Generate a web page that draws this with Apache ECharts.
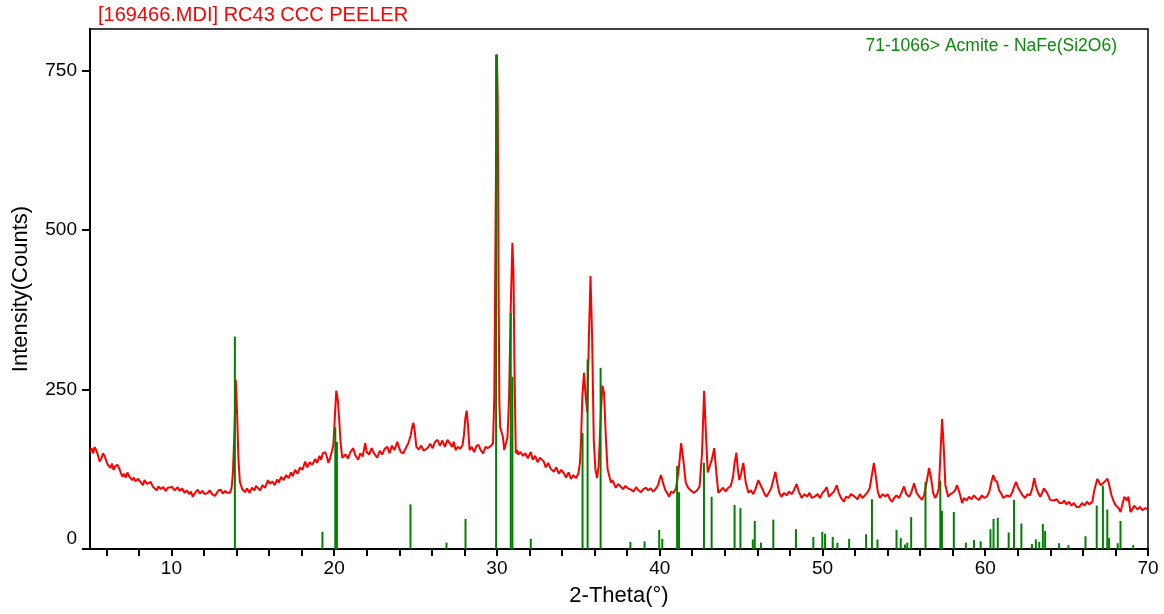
<!DOCTYPE html>
<html>
<head>
<meta charset="utf-8">
<script src="https://cdn.jsdelivr.net/npm/echarts@6/dist/echarts.min.js"></script>
<style>
html,body{margin:0;padding:0;background:#fff;}
#chart{width:1164px;height:614px;}
</style>
</head>
<body>
<div id="chart"></div>
<script>
const scanPoints = [
[5.00,152],[5.10,158],[5.20,150],[5.28,160],[5.40,154],[5.50,146],[5.59,137],[5.70,142],[5.80,150],[5.89,146],[6.00,138],[6.10,132],[6.26,127],[6.35,134],[6.45,124],[6.55,130],[6.69,132],[6.80,126],[6.90,119],[7.00,113],[7.10,118],[7.20,112],[7.30,120],[7.40,114],[7.50,116],[7.60,108],[7.70,112],[7.80,106],[7.95,110],[8.11,105],[8.25,100],[8.35,108],[8.50,102],[8.60,99],[8.73,105],[8.85,98],[8.97,96],[9.10,92],[9.20,98],[9.35,94],[9.50,97],[9.65,91],[9.78,96],[9.90,93],[10.05,97],[10.20,92],[10.39,97],[10.50,91],[10.65,95],[10.82,88],[10.95,92],[11.10,86],[11.20,90],[11.31,82],[11.45,88],[11.62,93],[11.75,87],[11.90,91],[12.05,86],[12.24,88],[12.35,92],[12.50,86],[12.67,83],[12.80,88],[12.90,92],[13.04,93],[13.15,87],[13.30,91],[13.45,88],[13.60,88],[13.70,96],[13.78,119],[13.88,190],[13.96,265],[14.04,210],[14.12,140],[14.21,105],[14.35,94],[14.52,89],
[14.65,95],[14.80,88],[14.95,96],[15.10,92],[15.20,99],[15.32,97],[15.45,92],[15.60,100],[15.75,96],[15.94,108],[16.05,102],[16.20,106],[16.35,100],[16.50,109],[16.60,104],[16.74,113],[16.90,108],[17.05,116],[17.20,111],[17.35,120],[17.45,114],[17.60,124],[17.75,118],[17.90,128],[18.05,124],[18.22,137],[18.35,128],[18.50,136],[18.65,132],[18.84,141],[18.95,135],[19.10,146],[19.20,140],[19.30,150],[19.45,152],[19.55,145],[19.64,135],[19.75,142],[19.88,155],[19.95,163],[20.05,210],[20.13,248],[20.22,235],[20.30,207],[20.40,165],[20.50,143],[20.56,140],
[20.70,148],[20.85,142],[21.00,152],[21.17,158],[21.30,147],[21.48,140],[21.60,150],[21.75,145],[21.91,166],[22.00,152],[22.15,148],[22.30,158],[22.45,150],[22.65,143],[22.80,154],[22.95,148],[23.10,157],[23.27,160],[23.40,150],[23.55,162],[23.70,155],[23.88,168],[24.00,158],[24.10,152],[24.25,150],[24.40,158],[24.56,166],[24.70,178],[24.80,192],[24.87,198],[24.95,185],[25.05,160],[25.20,156],[25.35,162],[25.50,154],[25.73,158],[25.90,165],[26.05,158],[26.20,168],[26.35,171],[26.50,162],[26.65,170],[26.80,160],[26.96,171],[27.10,166],[27.25,160],[27.35,168],[27.46,155],[27.60,160],[27.75,157],[27.89,163],[27.98,180],[28.06,205],[28.14,217],[28.22,195],[28.32,155],[28.45,160],[28.60,152],[28.75,162],[28.88,163],[29.00,155],[29.15,150],[29.30,160],[29.43,158],[29.55,155],[29.65,162],[29.76,166],[29.84,240],[29.92,520],[30.00,775],[30.05,700],[30.10,420],[30.15,230],[30.20,191],[30.28,192],[30.37,175],[30.45,155],[30.54,158],[30.65,175],[30.75,240],[30.85,380],[30.95,480],[31.02,430],[31.08,280],[31.16,150],[31.25,155],
[31.30,148],[31.45,152],[31.60,146],[31.75,150],[31.90,142],[32.08,152],[32.20,140],[32.35,146],[32.50,136],[32.65,143],[32.88,137],[33.00,128],[33.15,135],[33.30,126],[33.50,121],[33.65,128],[33.80,118],[33.95,124],[34.11,119],[34.25,112],[34.40,120],[34.55,110],[34.70,116],[34.85,111],[35.00,118],[35.10,135],[35.16,165],[35.25,240],[35.35,276],[35.45,240],[35.55,215],[35.65,330],[35.75,428],[35.85,330],[35.95,170],[36.05,125],[36.15,111],[36.25,130],[36.38,210],[36.48,256],[36.58,245],[36.70,170],[36.80,125],[36.89,116],[37.00,104],[37.10,108],[37.19,105],[37.30,96],[37.45,102],[37.60,98],[37.75,94],[37.90,99],[38.05,95],[38.24,93],[38.40,90],[38.55,97],[38.70,92],[38.85,89],[39.00,94],[39.16,96],[39.30,92],[39.45,95],[39.60,90],[39.75,94],[39.90,100],[40.00,110],[40.08,116],[40.20,104],[40.35,92],[40.50,86],[40.58,82],[40.70,90],[40.85,88],[41.00,95],[41.15,120],[41.32,166],[41.45,140],[41.60,104],[41.75,96],[41.90,92],[42.00,95],[42.12,88],[42.30,92],[42.45,98],[42.60,150],[42.73,248],[42.85,175],[42.95,120],[43.04,119],[43.20,140],[43.35,158],[43.48,120],[43.60,88],[43.75,92],[43.90,96],[44.05,90],[44.21,96],[44.35,98],[44.50,112],[44.60,135],[44.71,151],[44.80,125],[44.89,108],[45.00,118],[45.14,135],[45.28,105],[45.45,88],[45.60,92],[45.75,86],[45.90,95],[46.06,108],[46.20,100],[46.35,92],[46.45,86],[46.56,82],[46.70,88],[46.85,95],[47.00,110],[47.11,121],[47.25,100],[47.35,88],[47.48,82],[47.65,88],[47.80,84],[47.95,90],[48.10,86],[48.25,92],[48.41,102],[48.55,90],[48.72,80],[48.90,86],[49.05,82],[49.20,88],[49.35,80],[49.52,82],[49.70,86],[49.85,80],[50.00,88],[50.15,92],[50.26,97],[50.40,82],[50.55,86],[50.70,90],[50.88,100],[51.00,88],[51.15,80],[51.31,74],[51.45,82],[51.60,80],[51.75,86],[51.99,82],[52.15,78],[52.30,86],[52.45,80],[52.60,84],[52.75,88],[52.90,95],[53.05,118],[53.16,135],[53.30,110],[53.40,90],[53.53,80],[53.70,86],[53.85,82],[54.00,86],[54.15,78],[54.27,74],[54.40,80],[54.55,84],[54.70,80],[54.85,88],[55.01,98],[55.15,86],[55.32,82],[55.45,88],[55.63,103],[55.78,88],[55.95,82],[56.12,77],[56.25,85],[56.40,105],[56.55,127],[56.68,110],[56.80,88],[56.92,80],[57.05,86],[57.15,95],[57.25,150],[57.35,204],[57.45,160],[57.55,100],[57.72,82],[57.85,86],[58.00,88],[58.15,92],[58.27,100],[58.42,88],[58.58,72],[58.70,80],[58.85,76],[59.00,82],[59.15,78],[59.30,84],[59.45,80],[59.62,77],[59.80,84],[59.95,80],[60.10,82],[60.25,90],[60.38,105],[60.49,116],[60.60,108],[60.73,105],[60.85,92],[61.00,86],[61.10,80],[61.22,77],[61.35,84],[61.50,82],[61.65,88],[61.78,98],[61.90,105],[62.02,96],[62.15,90],[62.30,84],[62.45,80],[62.60,86],[62.75,84],[62.90,96],[63.01,111],[63.12,98],[63.25,88],[63.38,82],[63.50,88],[63.60,95],[63.69,98],[63.80,88],[63.99,77],[64.10,80],[64.25,76],[64.40,78],[64.55,72],[64.73,72],[64.85,76],[65.00,70],[65.15,74],[65.30,68],[65.45,72],[65.60,66],[65.78,66],[65.95,72],[66.10,68],[66.25,74],[66.40,70],[66.58,74],[66.70,92],[66.89,110],[67.00,104],[67.10,100],[67.20,98],[67.35,106],[67.51,110],[67.62,100],[67.75,85],[67.90,74],[68.00,69],[68.10,72],[68.20,64],[68.31,58],[68.45,72],[68.55,82],[68.62,85],[68.70,76],[68.80,82],[68.92,58],[69.05,62],[69.15,68],[69.23,67],[69.35,62],[69.50,66],[69.65,61],[69.85,64],[70.00,62]
];

// Reference pattern 71-1066 Acmite: stick positions and intensities
const stickAngles = [13.90,19.28,20.07,20.17,24.69,26.90,28.07,29.95,30.85,30.95,32.08,35.26,35.57,36.37,38.20,39.07,39.97,40.16,41.07,41.19,42.72,43.19,44.60,44.96,45.72,45.84,46.22,46.98,48.37,49.44,49.99,50.16,50.63,50.92,51.64,52.68,53.04,53.38,54.55,54.81,55.07,55.21,55.45,56.33,57.24,57.34,58.07,58.81,59.31,59.72,60.32,60.51,60.77,61.44,61.77,62.22,62.87,63.11,63.32,63.54,63.68,64.54,65.11,66.16,66.85,67.23,67.50,67.61,68.14,68.31,69.09];
const stickHeights = [333,27,191,168,70,10,47,775,370,270,16,182,297,284,11,12,30,16,130,89,135,82,69,64,15,44,10,46,31,19,27,24,19,10,16,23,78,15,30,17,7,10,50,105,107,60,58,10,14,12,31,47,49,26,77,40,8,15,11,39,28,9,6,20,68,99,62,17,9,44,6];

const xTickValues = [6,8,10,12,14,16,18,20,22,24,26,28,30,32,34,36,38,40,42,44,46,48,50,52,54,56,58,60,62,64,66,68,70];
const xLabelValues = [10,20,30,40,50,60,70];
const yTickValues = [0,250,500,750];

const titleText = '[169466.MDI] RC43 CCC PEELER';
const legendText = '71-1066> Acmite - NaFe(Si2O6)';

const FONT = '"Liberation Sans", Arial, sans-serif';
const stickData = stickAngles.map((a, i) => [a, stickHeights[i]]);

const chart = echarts.init(document.getElementById('chart'), null, {renderer: 'canvas'});
chart.setOption({
  animation: false,
  backgroundColor: '#fff',
  grid: {left: 90, right: 16, top: 29, bottom: 65, show: true, borderColor: '#000', borderWidth: 1.5},
  graphic: [
    {type: 'text', left: 98, top: 5, style: {text: titleText, fill: '#ff0000', font: '20px ' + FONT}},
    {type: 'text', right: 47, top: 37, style: {text: legendText, fill: '#0a8a0a', font: '17.5px ' + FONT}}
  ],
  xAxis: {
    type: 'value', min: 5, max: 70,
    name: '2-Theta(°)', nameLocation: 'middle', nameGap: 36,
    nameTextStyle: {fontFamily: FONT, fontSize: 22, color: '#000'},
    axisLine: {show: true, onZero: false, lineStyle: {color: '#000', width: 2}},
    axisTick: {show: true, inside: false, length: 7, customValues: xTickValues, lineStyle: {color: '#000', width: 2}},
    axisLabel: {customValues: xLabelValues, fontFamily: FONT, fontSize: 19, color: '#000', margin: 10},
    splitLine: {show: false}
  },
  yAxis: {
    type: 'value', min: 0, max: 815,
    name: 'Intensity(Counts)', nameLocation: 'middle', nameGap: 58,
    nameTextStyle: {fontFamily: FONT, fontSize: 22, color: '#000'},
    axisLine: {show: true, lineStyle: {color: '#000', width: 2}},
    axisTick: {show: true, length: 8, customValues: yTickValues, lineStyle: {color: '#000', width: 2}},
    axisLabel: {
      customValues: yTickValues, fontFamily: FONT, fontSize: 19, color: '#000', margin: 13,
      formatter: v => v === 0 ? '{z|0}' : String(v),
      rich: {z: {fontFamily: FONT, fontSize: 19, color: '#000', padding: [0, 0, 20, 0]}}
    },
    splitLine: {show: false}
  },
  series: [
    {
      type: 'line', data: scanPoints, showSymbol: false, symbol: 'none',
      lineStyle: {color: '#ff0000', width: 2}, z: 2, clip: true
    },
    {
      type: 'custom', data: stickData, z: 3, clip: true,
      encode: {x: 0, y: 1},
      renderItem: function (params, api) {
        const p0 = api.coord([api.value(0), 0]);
        const p1 = api.coord([api.value(0), api.value(1)]);
        return {type: 'line', shape: {x1: p0[0], y1: p0[1], x2: p1[0], y2: p1[1]},
          style: {stroke: '#008000', lineWidth: 2}};
      }
    }
  ]
});
</script>
</body>
</html>
